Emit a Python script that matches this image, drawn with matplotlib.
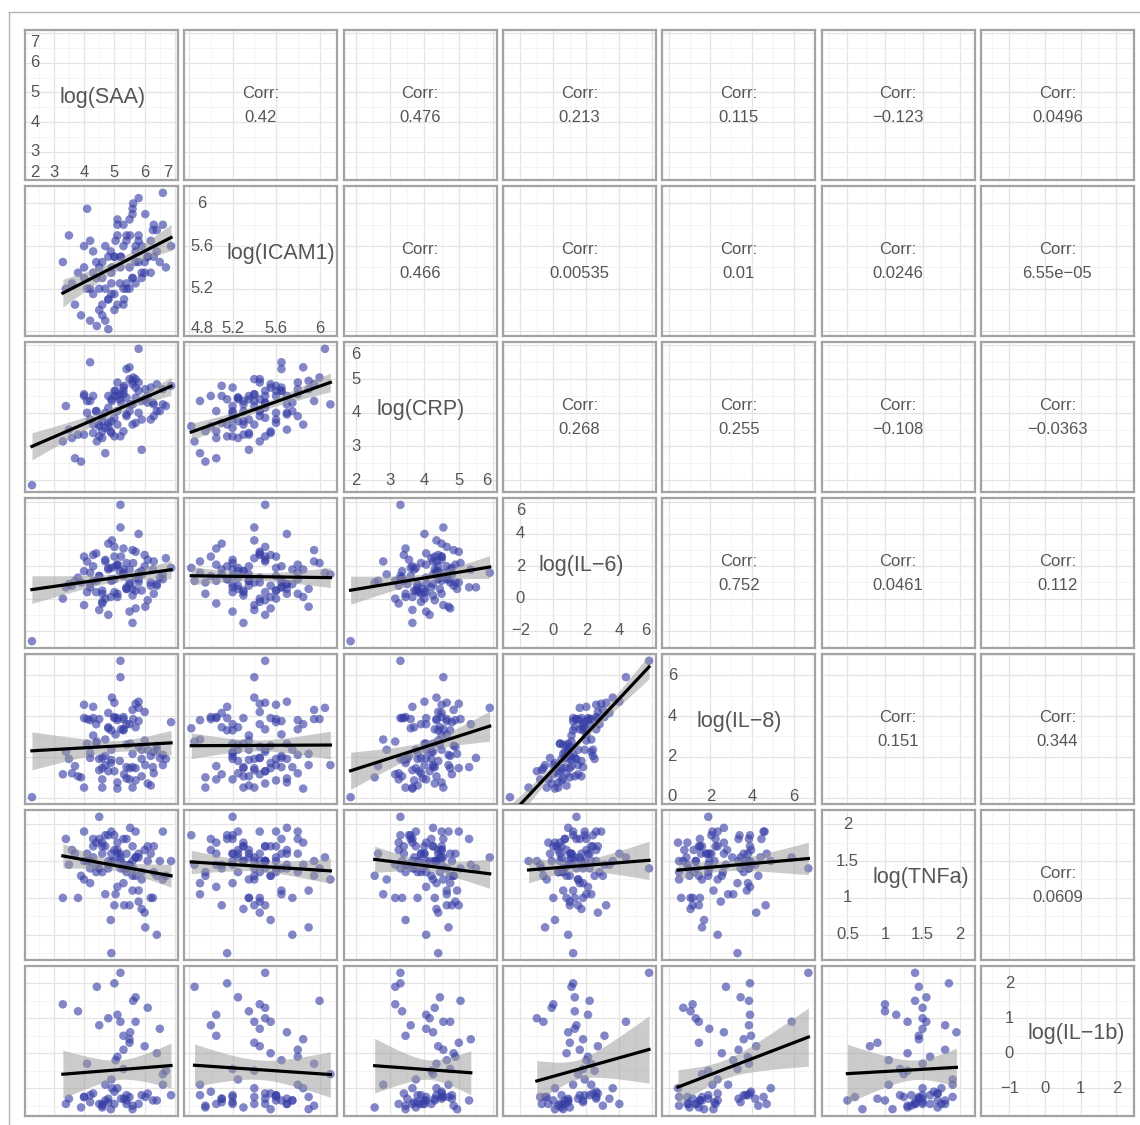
import numpy as np
import matplotlib.pyplot as plt
from matplotlib.lines import Line2D

plt.rcParams["font.family"] = ["Liberation Sans", "DejaVu Sans"]

nan = np.nan

var_labels = ["log(SAA)", "log(ICAM1)", "log(CRP)", "log(IL\u22126)",
              "log(IL\u22128)", "log(TNFa)", "log(IL\u22121b)"]

# one value per sample
saa = [2.28, 6.27, 4.1, 5.22, 4.6, 5.8, 3.5, 6.6, 5.0, 4.88, 5.5,
       4.3, 6.02, 3.8, 5.4, 4.7, 6.87, 5.1, 4.42, 5.7, 3.3,
       5.3, 6.2, 4.8, 5.62, 4.5, 5.9, 4.0, 5.18, 6.4, 4.92,
       5.6, 3.9, 5.5, 4.6, 6.1, 5.0, 4.2, 5.8, 5.32, 4.4,
       6.5, 5.1, 3.6, 5.7, 4.8, 5.4, 6.0, 4.3, 5.2, 4.7,
       5.9, 4.1, 5.52, 6.3, 5.04, 4.5, 5.6, 3.4, 6.7, 4.9,
       5.3, 4.6, 5.8, 4.0, 5.4, 6.2, 4.8, 5.1, 4.4, 5.7,
       5.0, 6.0, 4.2, 5.5, 4.7, 6.4, 5.2, 3.7, 5.6, 4.9,
       5.3, 6.1, 4.3, 5.8, 4.6, 5.1, 5.9, 4.8, 5.4, 4.0,
       6.6, 5.0, 5.7, 4.5, 5.3, 6.3, 4.2, 5.6, 4.9]
icam1 = [nan, 5.75, 5.2, 5.5, 5.05, 5.65, 5.7, 6.1, 5.5, 5.55, 5.4,
         5.15, 5.9, 5.35, 5.25, 4.9, 5.6, 5.7, 4.85, 5.45, 5.45,
         5.8, 5.35, 5.5, 6.0, 5.2, 5.6, 5.6, 5.25, 5.75, 5.4,
         5.3, 4.95, 5.85, 5.45, 5.5, 5.15, 5.65, 5.7, 5.1, 5.3,
         5.45, 5.05, 5.25, 5.55, 4.82, 5.7, 5.45, 5.35, 5.5, 5.6,
         5.3, 5.95, 5.7, 5.8, 5.65, 5.0, 5.3, 5.2, 5.4, 5.15,
         5.05, 5.3, 6.05, 5.4, 5.2, 5.65, 5.1, 5.85, 5.45, 5.25,
         5.5, 5.35, 4.9, 5.2, 5.2, 5.55, 5.4, 5.05, 5.9, 5.25,
         5.6, 5.5, 5.55, 5.45, 4.95, 5.8, 5.35, 5.1, 5.65, 5.3,
         5.8, 5.0, 5.6, 5.4, 5.2, 5.5, 5.2, 5.95, 5.35]
crp = [1.85, 4.3, 4.0, 4.3, 3.25, 4.65, 3.5, 4.25, 4.65, 3.45, 5.0,
       3.65, 4.7, 3.35, 4.45, 2.8, 4.8, 4.5, 3.15, 5.0, 3.15,
       4.55, 3.8, 4.15, 5.05, 3.3, 3.8, 4.5, 4.4, 4.05, 4.35,
       4.25, 2.55, 5.35, 3.9, 4.5, 3.3, 5.5, 4.0, 4.8, 4.05,
       4.05, 4.05, 3.25, 4.75, 3.6, 3.95, 4.4, 4.5, 3.3, 4.0,
       4.35, 4.35, 4.25, 3.9, 4.65, 3.6, 3.65, 4.2, 4.2, 4.4,
       3.45, 3.75, 5.9, 4.55, 3.9, 4.75, 3.7, 3.65, 4.05, 4.45,
       3.85, 4.4, 4.35, 4.05, 3.55, 4.85, 4.55, 2.65, 4.95, 3.75,
       4.65, 4.3, 3.4, 4.9, 3.45, 4.9, 2.9, 4.5, 5.3, 3.35,
       4.7, 4.5, 3.7, 3.65, 4.75, 4.25, 3.8, 4.85, 3.4]
il6 = [-2.63, 1.8, 0.4, 2.6, -0.3, 1.2, 0.9, 1.5, 3.2, 0.1, 1.0,
       2.0, -0.5, 1.3, 0.6, 2.3, 1.9, 0.3, 1.1, 2.9, 0.0,
       1.6, 0.8, -1.0, 2.2, 1.4, 0.5, 2.6, 1.7, 0.9, 3.6,
       0.2, 1.0, 1.8, -0.2, 2.4, 1.2, 0.7, 4.0, 1.5, 0.4,
       1.3, 2.1, 0.8, -0.6, 1.9, 0.6, 2.7, 1.1, 5.8, 0.0,
       1.7, 2.3, 0.9, 0.3, 2.0, 1.4, -1.5, 0.7, 2.5, 1.2,
       3.1, 0.5, 1.6, -0.4, 2.2, 1.0, 1.8, 0.1, 2.8, 1.3,
       0.4, 2.0, 1.6, -0.8, 2.4, 0.8, 4.4, 1.1, 0.6, 1.9,
       1.4, -0.1, 2.7, 1.0, 0.3, 2.1, 1.5, 3.4, 0.7, 1.7,
       1.2, 2.6, 0.5, -0.7, 1.8, 2.3, 0.9, 3.0, 1.1]
il8 = [0.03, 1.5, 2.65, 3.35, 0.9, 3.75, 1.9, 1.6, 4.65, 1.7, 1.45,
       4.45, 1.6, 1.05, 2.6, 2.85, 3.7, 0.75, 2.75, 4.6, 1.15,
       3.35, 0.6, 1.3, 3.85, 1.9, 1.9, 4.55, 1.8, 2.35, 4.9,
       1.5, 1.0, 3.6, 1.95, 2.35, 3.9, 1.95, 4.7, 1.15, 2.65,
       1.95, 3.9, 1.2, 1.45, 3.4, 0.95, 4.2, 3.05, 6.7, 1.6,
       1.05, 3.85, 2.65, 1.2, 3.1, 3.85, 0.5, 2.25, 1.9, 3.3,
       3.95, 1.45, 4.4, 0.5, 3.6, 2.05, 3.45, 0.45, 3.6, 3.45,
       1.3, 2.8, 3.8, 0.9, 2.05, 2.55, 5.9, 1.55, 2.15, 2.35,
       3.85, 0.7, 3.9, 2.5, 0.5, 3.8, 2.35, 4.15, 1.5, 3.9,
       2.1, 3.95, 0.85, 1.35, 3.3, 2.25, 2.2, 4.3, 1.85]
tnfa = [nan, 1.0, 1.6, 1.5, 1.75, 1.1, 1.45, 1.25, 0.9, 0.7, 0.9,
        1.8, 0.6, 1.0, 1.35, 1.05, 1.5, 1.65, 1.45, 1.9, 1.0,
        1.8, 1.0, 1.5, 1.4, 2.1, 1.35, 1.9, 1.6, 0.5, 1.5,
        1.7, 1.3, 1.45, 1.6, 1.7, 1.85, 1.4, 1.6, 0.9, 1.75,
        1.5, 1.15, 1.65, 1.3, 1.85, 1.4, 0.8, 1.55, 1.4, 1.7,
        0.85, 1.5, 1.95, 1.35, 1.05, 1.8, 1.5, 1.8, 1.3, 0.25,
        1.45, 1.7, 1.55, 1.25, 1.6, 1.6, 1.4, 1.75, 1.35, 1.55,
        1.5, 1.65, 1.2, 1.45, 1.85, 1.3, 1.55, 1.6, 1.1, 1.9,
        1.4, 1.5, 1.7, 0.95, 1.35, 1.6, 1.25, 1.45, 1.8, 1.5,
        1.9, 1.65, 1.55, 1.4, 1.2, 1.7, 1.5, 1.3, 1.6]
il1b = [nan, -1.35, nan, -1.3, -1.45, nan, -1.3, -0.6, nan, -1.6, 0.3,
        nan, -1.25, 1.2, nan, -0.9, -1.2, nan, 1.9, nan, 1.4,
        0.1, nan, 1.0, 1.5, nan, -1.2, -1.25, nan, -1.35, -1.0,
        nan, -1.55, 0.4, nan, -1.15, 2.0, nan, -1.45, -1.3, nan,
        0.7, 1.1, nan, 0.9, nan, -1.45, 0.2, nan, 2.3, -1.35,
        nan, -0.3, 0.6, nan, -0.2, 0.8, nan, -1.45, -0.5, nan,
        0.5, -1.55, nan, -1.25, -1.2, nan, -1.4, -1.0, nan, 1.6,
        -1.45, nan, -1.2, -1.25, nan, 0.0, 0.9, nan, -1.6, -0.75,
        nan, 1.3, -1.15, nan, -1.5, -0.1, nan, -1.3, -1.35, nan,
        -0.9, -1.1, nan, -1.45, -0.45, nan, -1.4, -1.5, nan]

breaks = [[2, 3, 4, 5, 6, 7], [4.8, 5.2, 5.6, 6.0], [2, 3, 4, 5, 6],
          [-2, 0, 2, 4, 6], [0, 2, 4, 6], [0.5, 1, 1.5, 2], [-1, 0, 1, 2]]
break_labels = [["2", "3", "4", "5", "6", "7"], ["4.8", "5.2", "5.6", "6"],
                ["2", "3", "4", "5", "6"], ["\u22122", "0", "2", "4", "6"],
                ["0", "2", "4", "6"], ["0.5", "1", "1.5", "2"],
                ["\u22121", "0", "1", "2"]]

# upper triangle, row by row
corr_values = ["0.42", "0.476", "0.213", "0.115", "\u22120.123", "0.0496",
               "0.466", "0.00535", "0.01", "0.0246", "6.55e\u221205",
               "0.268", "0.255", "\u22120.108", "\u22120.0363",
               "0.752", "0.0461", "0.112",
               "0.151", "0.344",
               "0.0609"]

label_x = [0.51, 0.63, 0.50, 0.51, 0.50, 0.65, 0.62]

W, H = 1140, 1125
fig = plt.figure(figsize=(W / 100, H / 100), dpi=100)

data = [np.array(v, dtype=float) for v in [saa, icam1, crp, il6, il8, tnfa, il1b]]
n_var = len(data)

lims = []
for v in data:
    lo, hi = np.nanmin(v), np.nanmax(v)
    pad = 0.05 * (hi - lo)
    lims.append((lo - pad, hi + pad))


def grid_ticks(b, lim):
    step = b[1] - b[0]
    major = [t for t in b if lim[0] <= t <= lim[1]]
    cand = [b[0] - step / 2] + [t + step / 2 for t in b]
    minor = [t for t in cand if lim[0] <= t <= lim[1]]
    return major, minor


def rel(v, lim):
    return (v - lim[0]) / (lim[1] - lim[0])


text_col = "#555555"
left0, pitch_x, pw = 25, 159.33, 153
top0, pitch_y, ph = 30, 156, 150
k = 0

for i in range(n_var):
    for j in range(n_var):
        L = left0 + j * pitch_x
        T = top0 + i * pitch_y
        ax = fig.add_axes([L / W, 1 - (T + ph) / H, pw / W, ph / H])
        ax.set_xlim(lims[j])
        ax.set_ylim(lims[i])
        xmaj, xmin = grid_ticks(breaks[j], lims[j])
        ymaj, ymin = grid_ticks(breaks[i], lims[i])
        ax.set_xticks(xmaj)
        ax.set_xticks(xmin, minor=True)
        ax.set_yticks(ymaj)
        ax.set_yticks(ymin, minor=True)
        ax.grid(which="major", color="#e4e4e4", lw=0.9)
        ax.grid(which="minor", color="#f2f2f2", lw=0.6)
        ax.set_axisbelow(True)
        ax.tick_params(which="both", length=0, labelbottom=False, labelleft=False)
        for s in ax.spines.values():
            s.set_color("#a3a3a3")
            s.set_linewidth(1.6)

        if i > j:
            x, y = data[j], data[i]
            m = np.isfinite(x) & np.isfinite(y)
            x, y = x[m], y[m]
            ax.scatter(x, y, s=38, color="#373ea5", alpha=0.62,
                       edgecolors="none", zorder=2)
            n = len(x)
            b1, b0 = np.polyfit(x, y, 1)
            resid = y - (b0 + b1 * x)
            sd = np.sqrt(np.sum(resid ** 2) / (n - 2))
            xs = np.linspace(x.min(), x.max(), 80)
            se = sd * np.sqrt(1 / n + (xs - x.mean()) ** 2 / np.sum((x - x.mean()) ** 2))
            tq = 1.96 + (1.96 ** 3 + 1.96) / (4 * (n - 2))
            fit = b0 + b1 * xs
            ax.fill_between(xs, fit - tq * se, fit + tq * se, color="#999999",
                            alpha=0.5, lw=0, zorder=3)
            ax.plot(xs, fit, color="black", lw=2.3, zorder=4)
        elif i < j:
            ax.text(0.5, 0.58, "Corr:", transform=ax.transAxes, ha="center",
                    va="center", fontsize=12, color=text_col)
            ax.text(0.5, 0.42, corr_values[k], transform=ax.transAxes,
                    ha="center", va="center", fontsize=12, color=text_col)
            k += 1
        else:
            b = breaks[i]
            labs = break_labels[i]
            lim = lims[i]
            # x labels sit on the row of the lowest y tick
            y_row = min(max(rel(b[0], lim), 0.05), 0.915)
            x_pos = []
            for t, lab in zip(b, labs):
                half = 0.025 * len(lab)
                xp = min(max(rel(t, lim), 0.04 + half), 0.96 - half)
                x_pos.append(xp)
                ax.text(xp, y_row, lab, transform=ax.transAxes, ha="center",
                        va="center", fontsize=12, color=text_col)
            for t, lab in zip(b[1:], labs[1:]):
                yp = min(max(rel(t, lim), 0.05), 0.915)
                ax.text(x_pos[0], yp, lab, transform=ax.transAxes, ha="center",
                        va="center", fontsize=12, color=text_col)
            ax.text(label_x[i], 0.55, var_labels[i], transform=ax.transAxes,
                    ha="center", va="center", fontsize=15.5, color=text_col)

# thin frame around the whole picture
fig.add_artist(Line2D([9 / W, 1], [1 - 12 / H, 1 - 12 / H], color="#b3b3b3",
                      lw=1, transform=fig.transFigure))
fig.add_artist(Line2D([9 / W, 9 / W], [1 - 12 / H, 0], color="#b3b3b3",
                      lw=1, transform=fig.transFigure))

fig.savefig("out.png", dpi=100)
plt.close(fig)
